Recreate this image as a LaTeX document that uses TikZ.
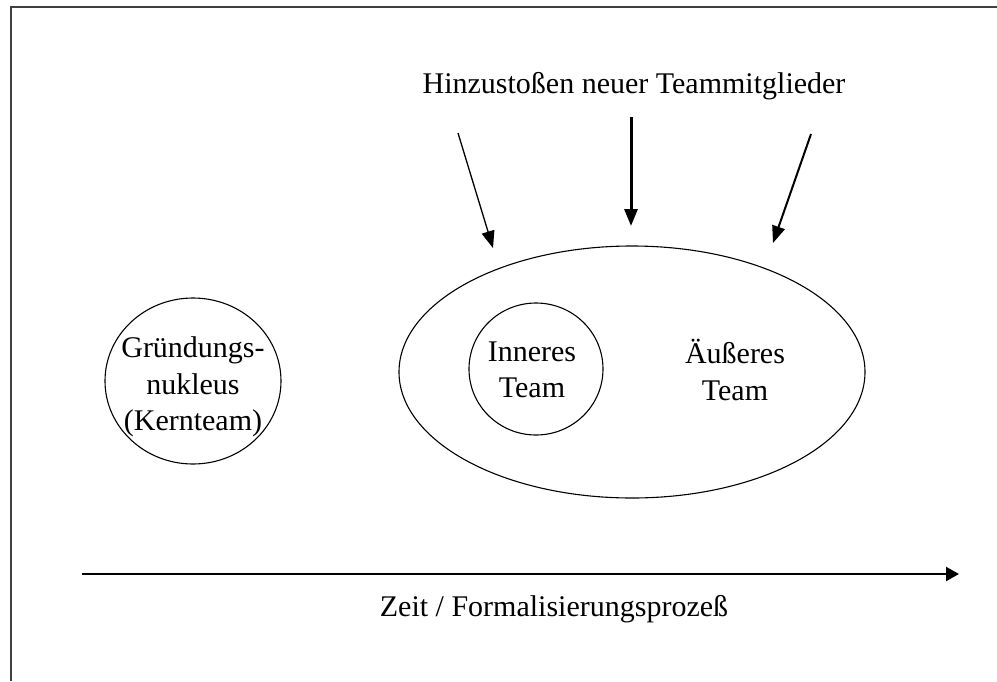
\documentclass[tikz,border=0pt]{standalone}
\usepackage{fontspec}
\setmainfont{Liberation Serif}
\usetikzlibrary{arrows.meta,shapes.geometric}
\begin{document}
\begin{tikzpicture}[x=1pt,y=-1pt,
  lbl/.style={font=\fontsize{30}{36.5}\selectfont, align=center, inner sep=0pt},
  ring/.style={draw=black, line width=1.1pt},
  inarrow/.style={draw=black, -{Triangle[length=17pt,width=13pt]}},
  frame/.style={draw=black!75, line width=2pt}]
\useasboundingbox (0,0) rectangle (997,681);
% frame (top and left edges)
\draw[frame] (997,7) -- (11,7) -- (11,681);
% circles
\draw[ring] (193,381) ellipse [x radius=88, y radius=83];
\draw[ring] (632,372) ellipse [x radius=233, y radius=126];
\draw[ring] (536,369) ellipse [x radius=67, y radius=66];
% labels
\node[lbl] (gruend) at (193,387) {Gründungs-\\nukleus\\(Kernteam)};
\node[lbl] (inner) at (532,370) {Inneres\\Team};
\node[lbl] (outer) at (735,370) {Äußeres\\Team};
\node[lbl] (title) at (634,86) {Hinzustoßen neuer Teammitglieder};
\node[lbl] (axislbl) at (554,609) {Zeit / Formalisierungsprozeß};
% incoming arrows
\coordinate (la) at (458,133); \coordinate (lb) at (493,248);
\coordinate (ma) at (631,117); \coordinate (mb) at (631,226);
\coordinate (ra) at (811,134); \coordinate (rb) at (773,243);
\draw[inarrow, line width=1.3pt] (la) -- (lb);
\draw[inarrow, line width=3pt] (ma) -- (mb);
\draw[inarrow, line width=2pt] (ra) -- (rb);
% time axis
\coordinate (ta) at (82,574); \coordinate (tb) at (959,574);
\draw[line width=2.2pt, -{Triangle[length=13pt,width=14pt]}] (ta) -- (tb);
\end{tikzpicture}
\end{document}
